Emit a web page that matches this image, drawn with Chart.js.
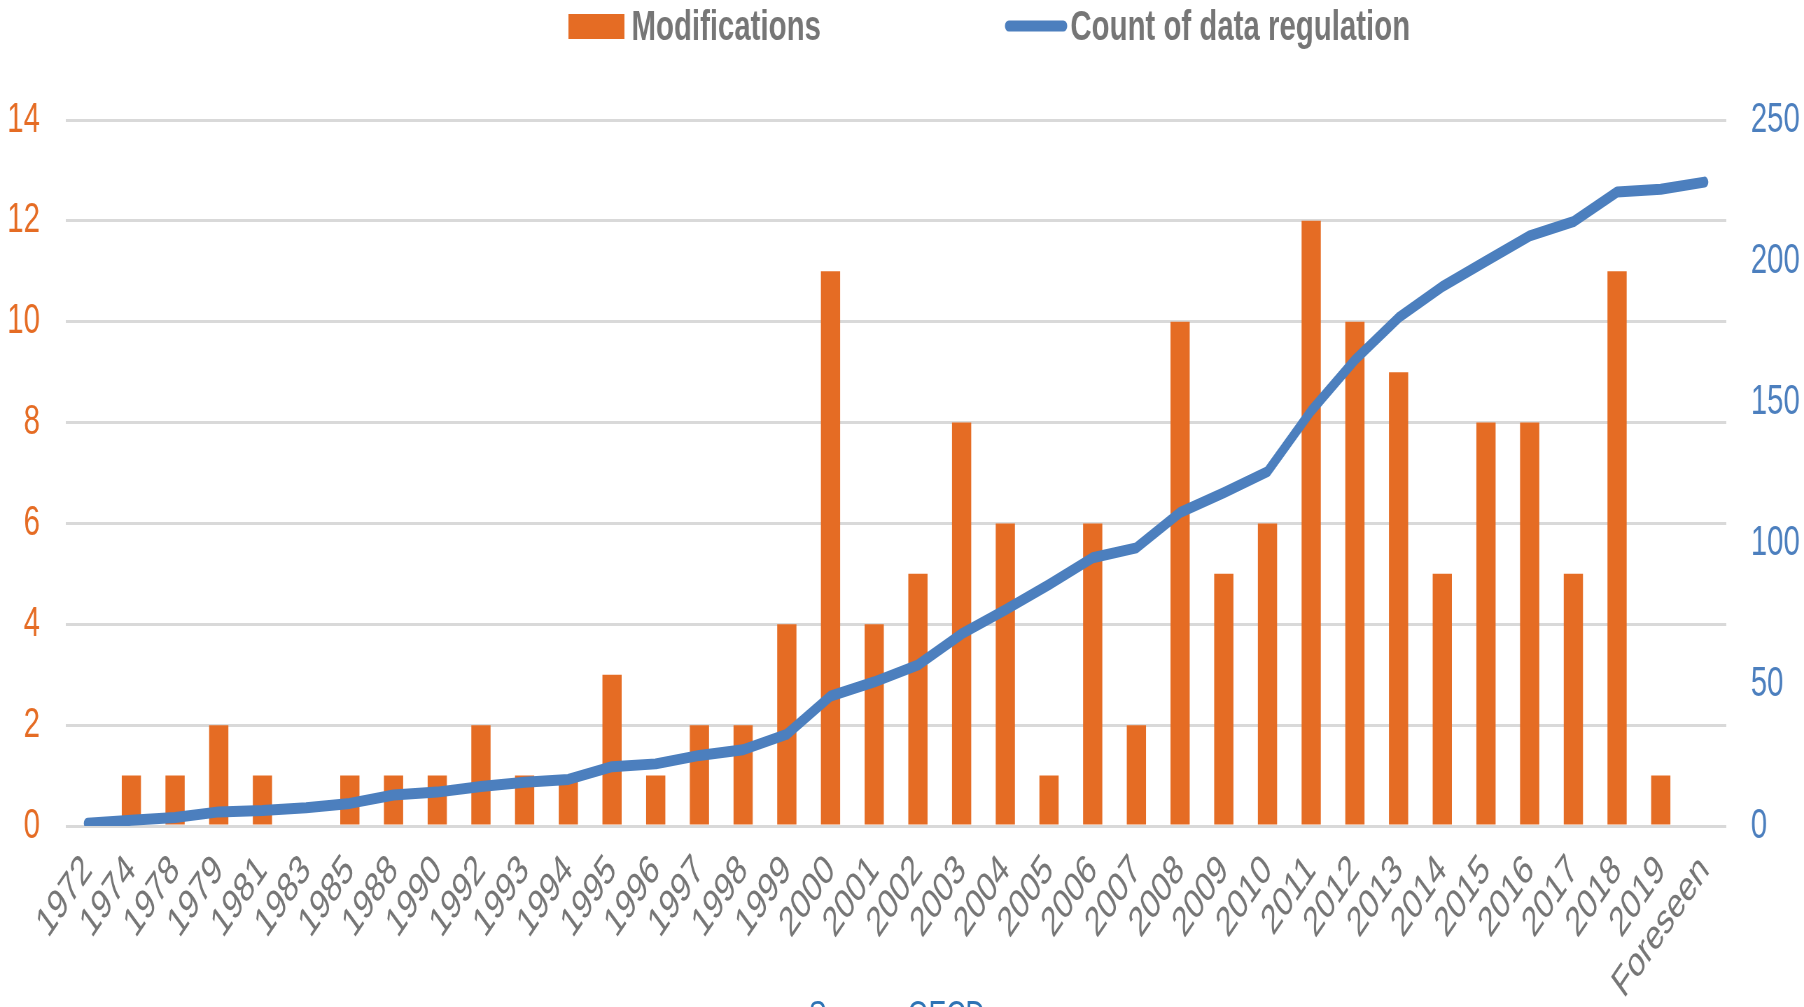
<!DOCTYPE html>
<html>
<head>
<meta charset="utf-8">
<title>Modifications and count of data regulation</title>
<script src="https://cdn.jsdelivr.net/npm/chart.js@4.4.1/dist/chart.umd.min.js"></script>
<style>
  html, body { margin: 0; padding: 0; overflow: hidden; background: #fff; }
  .frame { width: 1804px; height: 1007px; overflow: hidden; position: relative; }
  /* the source picture is squeezed horizontally, so draw wide and squeeze */
  .wide { width: 2577px; height: 1007px; transform: scaleX(0.70004); transform-origin: 0 0; }
</style>
</head>
<body>
<div class="frame">
  <div class="wide"><canvas id="chart"></canvas></div>
</div>
<script>
const years = ['1972', '1974', '1978', '1979', '1981', '1983', '1985', '1988', '1990', '1992',
  '1993', '1994', '1995', '1996', '1997', '1998', '1999', '2000', '2001', '2002', '2003',
  '2004', '2005', '2006', '2007', '2008', '2009', '2010', '2011', '2012', '2013', '2014',
  '2015', '2016', '2017', '2018', '2019', 'Foreseen'];

const modifications = [0, 1, 1, 2, 1, 0, 1, 1, 1, 2,
  1, 1, 3, 1, 2, 2, 4, 11, 4, 5, 8,
  6, 1, 6, 2, 10, 5, 6, 12, 10, 9, 5,
  8, 8, 5, 11, 1, 0];

const regulationCount = [1, 2, 3, 5, 5.5, 6.5, 8, 11, 12, 14,
  15.5, 16.5, 21, 22, 25, 27, 32.5, 46, 51, 57, 68,
  76.5, 85.5, 95, 98.5, 111, 118, 125.5, 147, 165, 180, 191,
  200, 209, 214, 224.5, 225.5, 228];

const leftTicks = [0, 2, 4, 6, 8, 10, 12, 14];
const rightTicks = [0, 50, 100, 150, 200, 250];

const ORANGE = '#E56C24';
const BLUE = '#4C7FBE';
const GREY = '#767676';
const FONT = "'Liberation Sans', Arial, sans-serif";

// legend + source line, drawn by hand to sit where they are in the picture
const extras = {
  id: 'extras',
  afterDraw(chart) {
    const ctx = chart.ctx;
    const sets = chart.data.datasets;
    ctx.save();
    ctx.fillStyle = sets[1].backgroundColor;
    ctx.fillRect(812, 14, 80, 25);

    ctx.strokeStyle = sets[0].borderColor;
    ctx.lineWidth = 11;
    ctx.lineCap = 'round';
    ctx.beginPath();
    ctx.moveTo(1441, 26);
    ctx.lineTo(1519, 26);
    ctx.stroke();

    ctx.font = 'bold 42px ' + FONT;
    ctx.fillStyle = GREY;
    ctx.textBaseline = 'middle';
    ctx.textAlign = 'left';
    ctx.fillText(sets[1].label, 902, 28);
    ctx.fillText(sets[0].label, 1529, 28);

    ctx.font = '38px ' + FONT;
    ctx.fillStyle = '#2E74B5';
    ctx.textAlign = 'center';
    ctx.textBaseline = 'alphabetic';
    ctx.fillText('Source: OECD', 1281, 1028);
    ctx.restore();
  }
};

const ctx = document.getElementById('chart');
new Chart(ctx, {
  type: 'bar',
  data: {
    labels: years,
    datasets: [{
      type: 'line',
      label: 'Count of data regulation',
      data: regulationCount,
      yAxisID: 'y1',
      borderColor: BLUE,
      backgroundColor: BLUE,
      borderWidth: 11,
      borderCapStyle: 'round',
      borderJoinStyle: 'round',
      pointRadius: 0,
      tension: 0,
      order: 0
    }, {
      type: 'bar',
      label: 'Modifications',
      data: modifications,
      yAxisID: 'y',
      backgroundColor: ORANGE,
      borderWidth: 0,
      barPercentage: 0.44,
      categoryPercentage: 1,
      order: 1
    }]
  },
  options: {
    responsive: true,
    maintainAspectRatio: false,
    animation: false,
    layout: { padding: { top: 120, left: 0, right: 0, bottom: 0 } },
    plugins: {
      legend: { display: false },
      tooltip: { enabled: false }
    },
    scales: {
      x: {
        grid: { display: false },
        border: { display: false },
        ticks: {
          color: GREY,
          font: { family: FONT, size: 42 },
          minRotation: 46,
          maxRotation: 46,
          autoSkip: false,
          padding: 12
        },
        afterFit(scale) { scale.height = 181; }
      },
      y: {
        position: 'left',
        min: 0,
        max: 14,
        afterBuildTicks(scale) { scale.ticks = leftTicks.map(v => ({ value: v })); },
        grid: { color: '#D9D9D9', lineWidth: 3, drawTicks: false },
        border: { display: false },
        ticks: {
          color: ORANGE,
          font: { family: FONT, size: 42 },
          padding: 37
        },
        afterFit(scale) { scale.width = 94; }
      },
      y1: {
        position: 'right',
        min: 0,
        max: 250,
        afterBuildTicks(scale) { scale.ticks = rightTicks.map(v => ({ value: v })); },
        grid: { display: false, drawTicks: false },
        border: { display: false },
        ticks: {
          color: BLUE,
          font: { family: FONT, size: 42 },
          padding: 35
        },
        afterFit(scale) { scale.width = 111; }
      }
    }
  },
  plugins: [extras]
});
</script>
</body>
</html>
